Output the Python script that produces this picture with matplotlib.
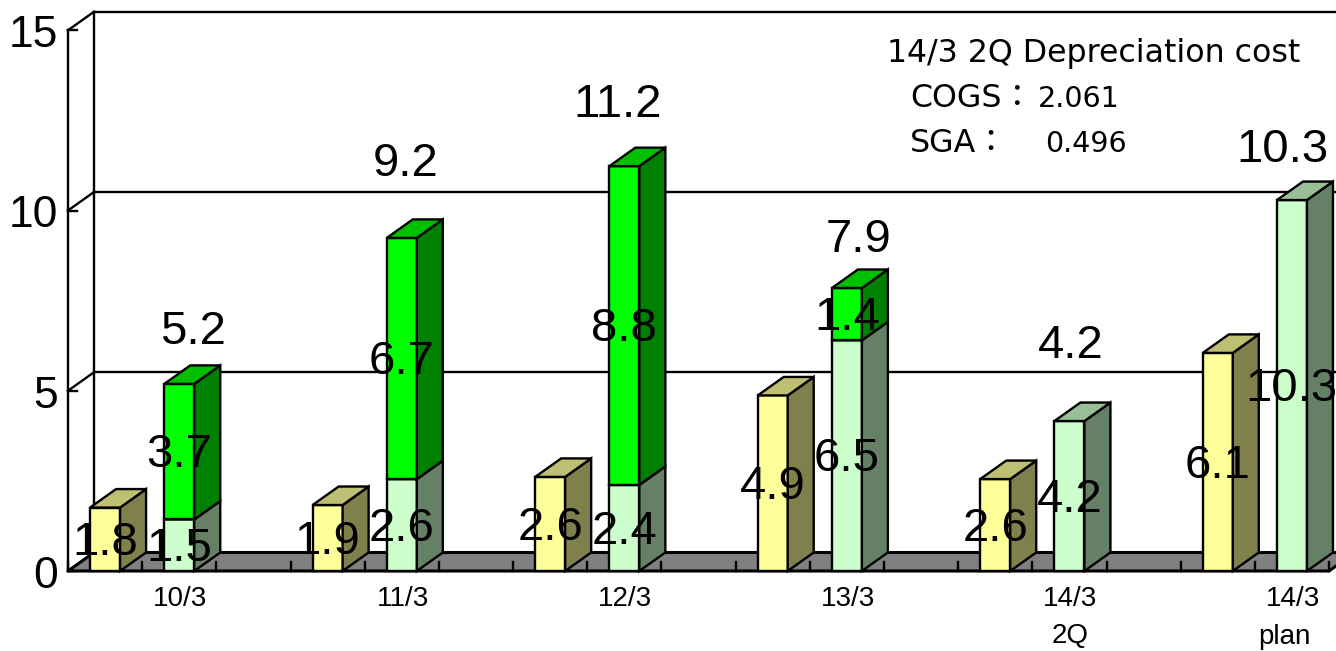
import matplotlib
matplotlib.use("Agg")
import matplotlib.pyplot as plt
import numpy as np

plt.rcParams['font.family'] = ['Liberation Sans', 'DejaVu Sans']

# heights, labels as printed on the chart
yellow = [1.76, 1.83, 2.61, 4.87, 2.55, 6.05]
green_low = [1.43, 2.55, 2.39, 6.40, 4.16, 10.29]
green_high = [3.76, 6.69, 8.84, 1.45, 0, 0]
yellow_labels = ['1.8', '1.9', '2.6', '4.9', '2.6', '6.1']
low_labels = ['1.5', '2.6', '2.4', '6.5', '4.2', '10.3']
high_labels = ['3.7', '6.7', '8.8', '1.4', '', '']
total_labels = ['5.2', '9.2', '11.2', '7.9', '4.2', '10.3']
categories = ['10/3', '11/3', '12/3', '13/3', '14/3\n2Q', '14/3']
yticks = [0, 5, 10, 15]

# scale: one slot = 74.18 px, one unit = 36.05 px, 3 slots per year
SLOT = 74.18
UNIT = 36.05
DX = 26 / SLOT
DY = 18.5 / UNIT
WIDTH = 30 / SLOT
NSLOTS = 17
LW = 1.7
TEXT_DOWN = 0.1  # text sits a little low of centre in the original

fig = plt.figure(figsize=(13.36, 6.51), dpi=100)
ax = fig.add_axes([0, 0, 1, 1])
ax.set_xlim(-68 / SLOT, (1336 - 68) / SLOT)
ax.set_ylim(-(651 - 571) / UNIT, 571 / UNIT)
ax.axis('off')


def box(x, bottom, height, front, side, top, z):
    ax.bar(x, height, WIDTH, bottom=bottom, color=front, edgecolor='black', linewidth=LW, zorder=z)
    r = x + WIDTH / 2
    l = x - WIDTH / 2
    b = bottom
    t = bottom + height
    ax.fill([r, r + DX, r + DX, r], [b, b + DY, t + DY, t], facecolor=side, edgecolor='black', linewidth=LW, zorder=z)
    ax.fill([l, l + DX, r + DX, r], [t, t + DY, t + DY, t], facecolor=top, edgecolor='black', linewidth=LW, zorder=z)


# walls and grid
ax.plot([0, 0], [0, 15], color='black', lw=LW, zorder=1)
ax.plot([DX, DX], [DY, 15 + DY], color='black', lw=LW, zorder=1)
for v in yticks:
    ax.plot([0, DX], [v, v + DY], color='black', lw=LW, zorder=1)
    ax.plot([DX, NSLOTS + DX], [v + DY, v + DY], color='black', lw=LW, zorder=1)
    ax.plot([0, 9 / SLOT], [v, v], color='black', lw=LW, zorder=1)
    ax.text(-10 / SLOT, v - 0.15, str(v), ha='right', va='center', fontsize=32, zorder=10)

# floor
ax.fill([0, DX, NSLOTS + DX, NSLOTS], [0, DY, DY, 0], facecolor='#808080', edgecolor='black', linewidth=2.2, zorder=2)
for s in range(NSLOTS + 1):
    ax.plot([s, s], [0, 0.25], color='black', lw=LW, zorder=2)

# bars, left to right so nearer faces overlap properly
for i in range(len(categories)):
    xa = 3 * i + 0.5
    xb = 3 * i + 1.5
    box(xa, 0, yellow[i], '#FFFF99', '#80804D', '#BFBF73', 3 + i)
    box(xb, 0, green_low[i], '#CCFFCC', '#668066', '#99BF99', 3 + i)
    if green_high[i] > 0:
        box(xb, green_low[i], green_high[i], '#00FF00', '#008000', '#00BF00', 3 + i)

# value labels
total_dx = [14, 4, -7, 12, 1, -9]
total_dy = [52, 74, 61, 48, 75, 50]
for i in range(len(categories)):
    xa = 3 * i + 0.5
    xb = 3 * i + 1.5
    ax.text(xa, yellow[i] / 2 - TEXT_DOWN, yellow_labels[i], ha='center', va='center', fontsize=34, zorder=20)
    ax.text(xb, green_low[i] / 2 - TEXT_DOWN, low_labels[i], ha='center', va='center', fontsize=34, zorder=20)
    if green_high[i] > 0:
        ax.text(xb, green_low[i] + green_high[i] / 2 - TEXT_DOWN, high_labels[i], ha='center', va='center', fontsize=34, zorder=20)
    ax.annotate(total_labels[i], (xb, green_low[i] + green_high[i]), xytext=(total_dx[i], total_dy[i]),
                textcoords='offset pixels', ha='center', va='center', fontsize=34, zorder=20)

# category labels
for i, c in enumerate(categories):
    ax.text(3 * i + 1.51, -0.42, c, ha='center', va='top', fontsize=20, linespacing=1.55, zorder=20)
ax.text(15.5 + 0.9, -1.82, 'plan', ha='center', va='center', fontsize=20, zorder=20)

# note in the top right corner, all on common baselines
note = ['14/3 2Q Depreciation cost', 'COGS：', 'SGA：']
note_x = [887, 910, 910]
note_base = [62, 107, 152]
note_values = ['2.061', '0.496']
value_x = [1038, 1045]
for t, px, py in zip(note, note_x, note_base):
    ax.text((px - 68) / SLOT, (571 - py) / UNIT, t, ha='left', va='baseline', fontsize=22.8,
            family=['DejaVu Sans', 'Noto Sans CJK JP'], zorder=20)
for t, px, py in zip(note_values, value_x, note_base[1:]):
    ax.text((px - 68) / SLOT, (571 - py) / UNIT, t, ha='left', va='baseline', fontsize=20.5,
            family=['DejaVu Sans'], zorder=20)

fig.savefig('out.png', dpi=100)
